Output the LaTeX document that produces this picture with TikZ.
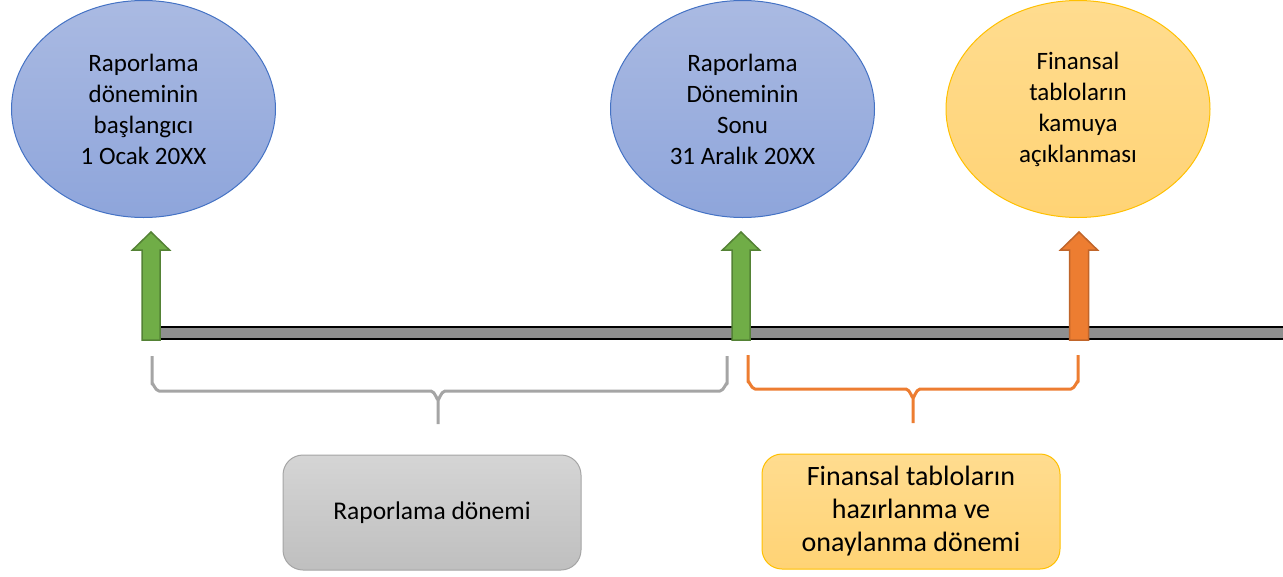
\documentclass[tikz,border=0pt]{standalone}
\usepackage{fontspec}
\setmainfont{Carlito}
\usetikzlibrary{shapes.geometric}
\definecolor{maviUst}{HTML}{AABAE2}
\definecolor{maviAlt}{HTML}{8EA5DB}
\definecolor{maviCizgi}{HTML}{4472C4}
\definecolor{sariUst}{HTML}{FFDC8F}
\definecolor{sariAlt}{HTML}{FFD375}
\definecolor{sariCizgi}{HTML}{FFC000}
\definecolor{yesil}{HTML}{70AD47}
\definecolor{yesilCizgi}{HTML}{548235}
\definecolor{turuncu}{HTML}{ED7D31}
\definecolor{turuncuCizgi}{HTML}{C0652A}
\definecolor{griUst}{HTML}{D5D5D5}
\definecolor{griAlt}{HTML}{BFBFBF}
\definecolor{griCizgi}{HTML}{A5A5A5}
\definecolor{cizgiGri}{HTML}{8F8F8F}

\tikzset{
  olay/.style={ellipse, line width=1pt, minimum width=264pt, minimum height=217pt,
    inner sep=0pt, align=center, font=\fontsize{25}{31}\selectfont},
  olaymavi/.style={olay, draw=maviCizgi, top color=maviUst, bottom color=maviAlt},
  olaysari/.style={olay, draw=sariCizgi, top color=sariUst, bottom color=sariAlt},
  kutu/.style={rounded corners=20pt, line width=1pt, minimum width=298pt,
    minimum height=115pt, align=center},
  yesilok/.style={fill=yesil, draw=yesilCizgi, line width=1.5pt},
  turuncuok/.style={fill=turuncu, draw=turuncuCizgi, line width=1.5pt},
  parantez/.style={line width=3pt, line join=round}
}

\begin{document}
\begin{tikzpicture}[x=1pt,y=-1pt]
  \useasboundingbox (0,0) rectangle (1283,576);

  % zaman cizgisi
  \draw[fill=cizgiGri, draw=black, line width=2pt] (151,327) rectangle (1295,339);

  % oklar
  \foreach \x in {151,741}
    \draw[yesilok] (\x-9,340) -- (\x-9,250) -- (\x-18.5,250) -- (\x,232)
      -- (\x+18.5,250) -- (\x+9,250) -- (\x+9,340) -- cycle;
  \draw[turuncuok] (1079-9.5,340) -- (1079-9.5,250) -- (1079-18.5,250) -- (1079,232)
      -- (1079+18.5,250) -- (1079+9.5,250) -- (1079+9.5,340) -- cycle;

  % olaylar
  \node[olaymavi] (baslangic) at (143.5,109) {Raporlama\\d\"oneminin\\ba\c{s}lang\i c\i\\1 Ocak 20XX};
  \node[olaymavi] (sonu) at (742.5,109) {Raporlama\\D\"oneminin\\Sonu\\31 Aral\i k 20XX};
  \node[olaysari] (aciklama) at (1078,109) {Finansal\\tablolar\i n\\kamuya\\a\c{c}\i klanmas\i};

  % parantezler
  \draw[parantez, griCizgi] (152,356) -- (152,384) to[out=90,in=180] (159,391)
    -- (431,391) to[out=0,in=-90] (438,399) -- (438,424);
  \draw[parantez, griCizgi] (727,356) -- (727,384) to[out=90,in=0] (720,391)
    -- (445,391) to[out=180,in=-90] (438,399);
  \draw[parantez, turuncu] (748,355) -- (748,382) to[out=90,in=180] (755,389)
    -- (906,389) to[out=0,in=-90] (913,397) -- (913,423);
  \draw[parantez, turuncu] (1078,355) -- (1078,382) to[out=90,in=0] (1071,389)
    -- (920,389) to[out=180,in=-90] (913,397);

  % donem kutulari
  \node[kutu, draw=griCizgi, top color=griUst, bottom color=griAlt,
    font=\fontsize{25.5}{31}\selectfont] (raporkutu) at (432,512.5) {Raporlama d\"onemi};
  \node[kutu, draw=sariCizgi, top color=sariUst, bottom color=sariAlt,
    font=\fontsize{28}{33}\selectfont] (hazirkutu) at (911,511.5)
    {Finansal tablolar\i n\\haz\i rlanma ve\\onaylanma d\"onemi};
\end{tikzpicture}
\end{document}
